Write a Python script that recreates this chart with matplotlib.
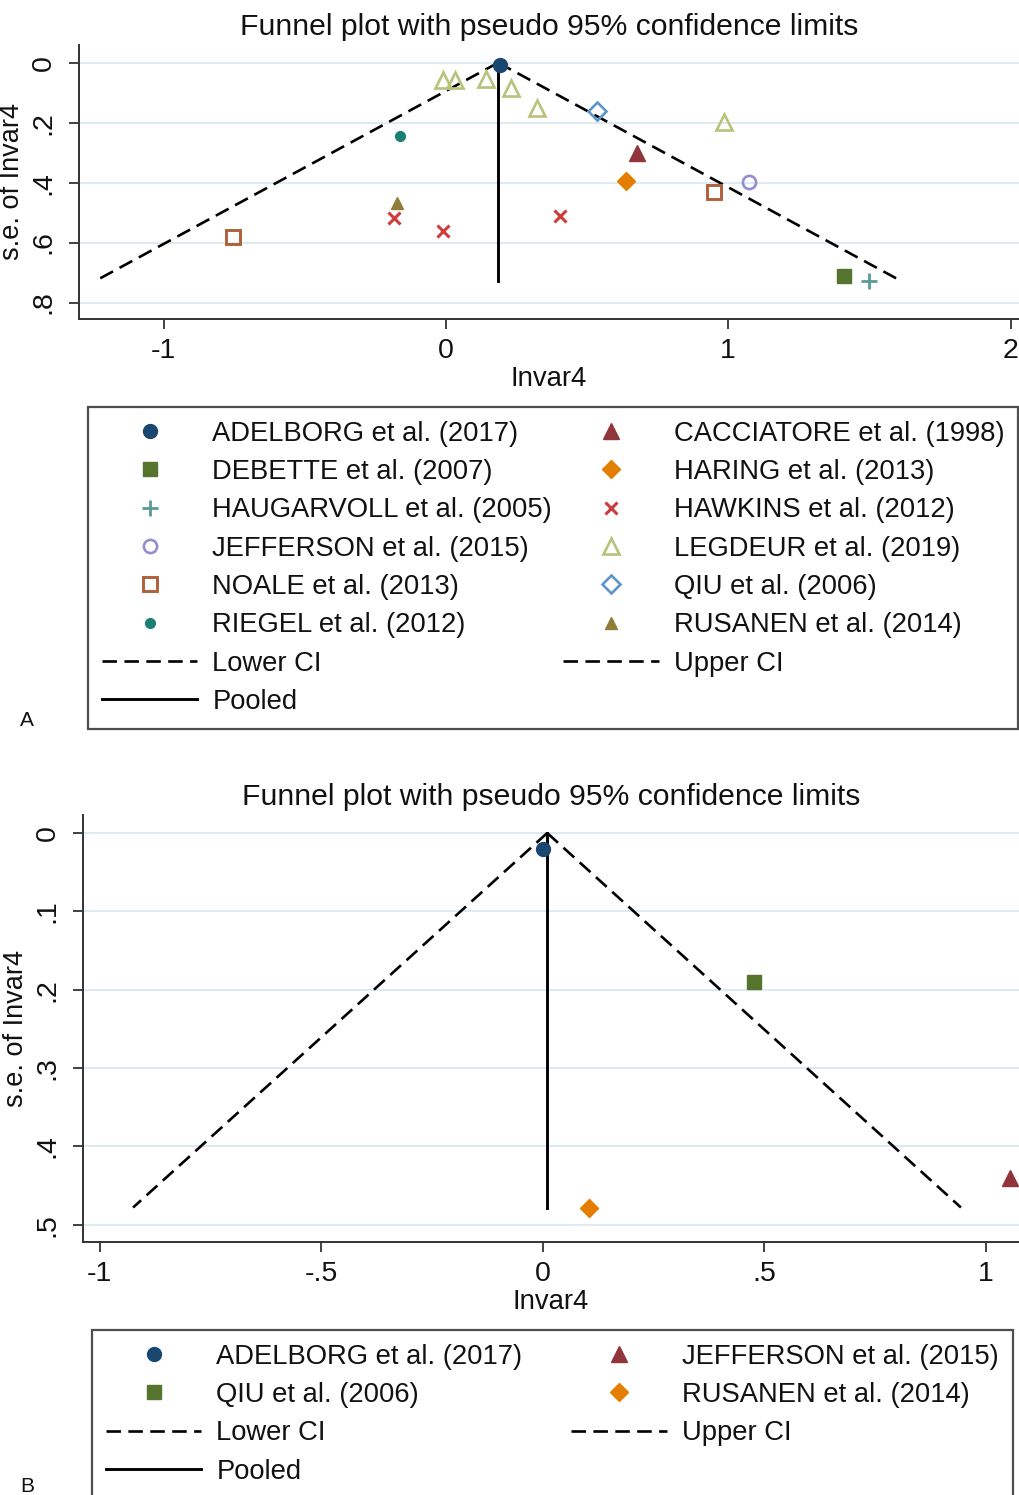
import matplotlib
matplotlib.use("Agg")
import matplotlib.pyplot as plt

plt.rcParams['font.family'] = ['Liberation Sans', 'DejaVu Sans']

# ---- Panel A data: effect (Invar4) and standard error per study ----
studies_a = ['ADELBORG et al. (2017)', 'CACCIATORE et al. (1998)', 'DEBETTE et al. (2007)',
             'HARING et al. (2013)', 'HAUGARVOLL et al. (2005)', 'HAWKINS et al. (2012)',
             'JEFFERSON et al. (2015)', 'LEGDEUR et al. (2019)', 'NOALE et al. (2013)',
             'QIU et al. (2006)', 'RIEGEL et al. (2012)', 'RUSANEN et al. (2014)']
eff_a = [[0.19], [0.675], [1.41], [0.639], [1.50], [-0.183, -0.012, 0.405],
         [1.074], [-0.01, 0.032, 0.142, 0.232, 0.324, 0.984], [-0.754, 0.95],
         [0.535], [-0.163], [-0.173]]
se_a = [[0.007], [0.302], [0.71], [0.393], [0.727], [0.517, 0.561, 0.513],
        [0.397], [0.058, 0.058, 0.054, 0.083, 0.15, 0.197], [0.583, 0.43],
        [0.16], [0.246], [0.469]]
pooled_a = 0.185
ci_se_a = [0.0, 0.727]
lower_ci_a = [pooled_a, -1.24]
upper_ci_a = [pooled_a, 1.61]

# ---- Panel B data ----
studies_b = ['ADELBORG et al. (2017)', 'JEFFERSON et al. (2015)',
             'QIU et al. (2006)', 'RUSANEN et al. (2014)']
eff_b = [[0.0], [1.055], [0.477], [0.105]]
se_b = [[0.020], [0.44], [0.19], [0.478]]
pooled_b = 0.01
ci_se_b = [0.0, 0.478]
lower_ci_b = [pooled_b, -0.925]
upper_ci_b = [pooled_b, 0.944]

xticks_a = [-1, 0, 1, 2]
xticklabels_a = ['-1', '0', '1', '2']
yticks_a = [0, 0.2, 0.4, 0.6, 0.8]
yticklabels_a = ['0', '.2', '.4', '.6', '.8']
xticks_b = [-1, -0.5, 0, 0.5, 1]
xticklabels_b = ['-1', '-.5', '0', '.5', '1']
yticks_b = [0, 0.1, 0.2, 0.3, 0.4, 0.5]
yticklabels_b = ['0', '.1', '.2', '.3', '.4', '.5']

# Stata-like marker styles: (marker, size, facecolor, edgecolor, edgewidth)
styles_a = [
    ('o', 10, '#1a476f', '#1a476f', 1),
    ('^', 11, '#90353b', '#90353b', 1),
    ('s', 9.5, '#55752f', '#55752f', 1),
    ('D', 9, '#e37e00', '#e37e00', 1),
    ('+', 12, '#5a9a9a', '#5a9a9a', 2),
    ('x', 8.5, '#d03b3b', '#d03b3b', 2.2),
    ('o', 9.5, 'none', '#938dd2', 1.9),
    ('^', 11, 'none', '#b9c27a', 1.9),
    ('s', 9.5, 'none', '#b0603a', 2.1),
    ('D', 9, 'none', '#5e95c8', 1.9),
    ('o', 7, '#1a7f74', '#1a7f74', 1),
    ('^', 8, '#8f7d3a', '#8f7d3a', 1),
]
styles_b = [
    ('o', 10, '#1a476f', '#1a476f', 1),
    ('^', 11, '#90353b', '#90353b', 1),
    ('s', 9.5, '#55752f', '#55752f', 1),
    ('D', 9, '#e37e00', '#e37e00', 1),
]

W, H = 1019, 1495
fig = plt.figure(figsize=(W / 100, H / 100), dpi=100)
fig.patch.set_facecolor('white')

DASH = (0, (5.5, 2.8))
TXT = '#111111'


def draw_panel(ax, studies, effs, ses, styles, pooled, ci_se, lo, up,
               xt, xtl, yt, ytl, xlim, ylim):
    handles = []
    for name, xs, ss, st in zip(studies, effs, ses, styles):
        m, ms, fc, ec, ew = st
        h, = ax.plot(xs, ss, linestyle='none', marker=m, markersize=ms,
                     markerfacecolor=fc, markeredgecolor=ec, markeredgewidth=ew,
                     label=name, zorder=4)
        handles.append(h)
    hl, = ax.plot(lo, ci_se, color='black', lw=1.9, linestyle=DASH, label='Lower CI', zorder=3)
    hu, = ax.plot(up, ci_se, color='black', lw=1.9, linestyle=DASH, label='Upper CI', zorder=3)
    hp, = ax.plot([pooled, pooled], ci_se, color='black', lw=2.1, label='Pooled', zorder=3)
    handles += [hl, hu, hp]

    ax.set_xlim(*xlim)
    ax.set_ylim(*ylim)
    ax.set_xticks(xt)
    ax.set_xticklabels(xtl, fontsize=20.5, color=TXT)
    ax.set_yticks(yt)
    ax.set_yticklabels(ytl, fontsize=20.5, color=TXT, rotation=90, va='center')
    ax.yaxis.grid(True, color='#d7e8ef', lw=1.2)
    ax.set_axisbelow(True)
    for s in ['top', 'right']:
        ax.spines[s].set_visible(False)
    for s in ['left', 'bottom']:
        ax.spines[s].set_color('#333333')
        ax.spines[s].set_linewidth(1.4)
    ax.tick_params(direction='out', length=7, width=1.3, color='#333333')
    ax.tick_params(axis='x', pad=7)
    ax.tick_params(axis='y', pad=9)
    ax.set_xlabel('Invar4', fontsize=19.8, color=TXT, labelpad=1)
    ax.set_ylabel('s.e. of Invar4', fontsize=19.5, color=TXT, labelpad=4)
    ax.set_title('Funnel plot with pseudo 95% confidence limits', fontsize=21.7, color=TXT, pad=7)
    return handles


def row_order(handles):
    # Stata legends fill row by row; matplotlib fills column by column
    return handles[0::2] + handles[1::2]


def add_legend(handles, anchor, colspace, expand=False):
    hs = row_order(handles)
    kw = dict(mode='expand') if expand else {}
    leg = fig.legend(handles=hs, labels=[h.get_label() for h in hs],
                     ncol=2, loc='upper left', bbox_to_anchor=anchor,
                     fontsize=19.7, frameon=True, fancybox=False, edgecolor='#222222',
                     handlelength=3.5, handletextpad=0.55, labelspacing=0.45,
                     columnspacing=colspace, borderpad=0.5, borderaxespad=0,
                     numpoints=1, **kw)
    leg.get_frame().set_linewidth(1.6)
    for t in leg.get_texts():
        t.set_color(TXT)
    return leg


# ---- Panel A ----
axA = fig.add_axes([79 / W, 1 - 319 / H, (W - 79) / W, (319 - 45) / H])
hA = draw_panel(axA, studies_a, eff_a, se_a, styles_a, pooled_a, ci_se_a,
                lower_ci_a, upper_ci_a, xticks_a, xticklabels_a, yticks_a, yticklabels_a,
                (-1.30, 2.03), (0.855, -0.059))
add_legend(hA, (88 / W, 1 - 725 / H, (1018 - 88) / W, (725 - 407) / H), 0.73, expand=True)
fig.text(20 / W, 1 - 720 / H, 'A', fontsize=15, color=TXT, va='center')

# ---- Panel B ----
axB = fig.add_axes([83 / W, 1 - 1242 / H, (W - 83) / W, (1242 - 815) / H])
hB = draw_panel(axB, studies_b, eff_b, se_b, styles_b, pooled_b, ci_se_b,
                lower_ci_b, upper_ci_b, xticks_b, xticklabels_b, yticks_b, yticklabels_b,
                (-1.038, 1.075), (0.522, -0.023))
add_legend(hB, (92 / W, 1 - 1330 / H), 1.78)
fig.text(20 / W, 1 - 1487 / H, 'B', fontsize=15, color=TXT, va='center')

fig.savefig('out.png', dpi=100)
